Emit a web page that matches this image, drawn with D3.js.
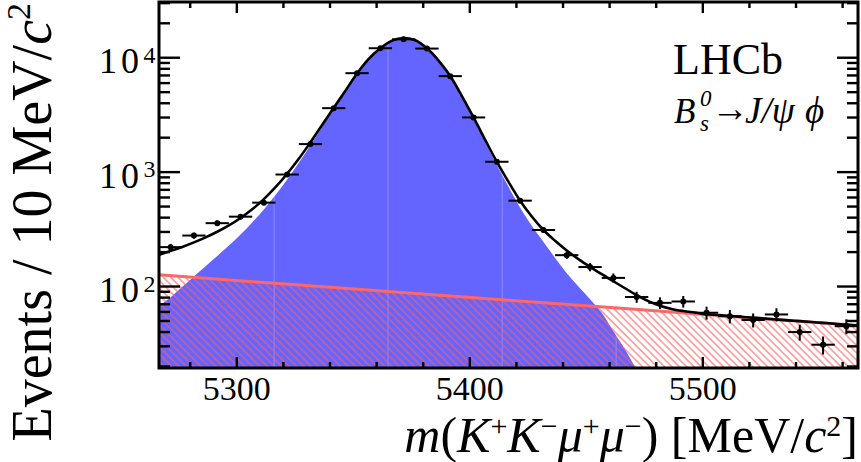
<!DOCTYPE html>
<html>
<head>
<meta charset="utf-8">
<script src="https://cdn.jsdelivr.net/npm/d3@7"></script>
<style>
  html, body { margin: 0; padding: 0; background: #fff; }
  svg { display: block; }
  svg text { font-family: "Liberation Serif", "Times New Roman", serif; }
</style>
</head>
<body>
<svg id="chart" width="861" height="462"></svg>
<script>
// ---- data: B_s0 -> J/psi phi invariant-mass fit ----
const binCentres = [5271.6, 5281.6, 5291.6, 5301.6, 5311.6, 5321.6, 5331.6, 5341.6, 5351.6, 5361.6,
                    5371.6, 5381.6, 5391.6, 5401.6, 5411.6, 5421.6, 5431.6, 5441.6, 5451.6, 5461.6,
                    5471.6, 5481.6, 5491.6, 5501.6, 5511.6, 5521.6, 5531.6, 5541.6, 5551.6, 5561.6];
const eventCounts = [221, 279, 358, 408, 541, 953, 1758, 3624, 7327, 12106,
                     14490, 12025, 6904, 3006, 1232, 563, 312, 188, 148, 119,
                     81, 72, 74, 59, 55, 51, 57, 40, 31, 45];
const binWidth = 10;

// fit model sampled along the mass axis
const fitMass = [5266.6, 5271.6, 5276.6, 5281.6, 5286.6, 5291.6, 5296.6, 5301.6, 5306.6, 5311.6,
                 5316.6, 5321.6, 5326.6, 5331.6, 5336.6, 5341.6, 5346.6, 5351.6, 5356.6, 5361.6,
                 5366.6, 5371.6, 5376.6, 5381.6, 5386.6, 5391.6, 5396.6, 5401.6, 5406.6, 5411.6,
                 5416.6, 5421.6, 5426.6, 5431.6, 5436.6, 5441.6, 5446.6, 5451.6, 5456.6, 5461.6,
                 5466.6, 5471.6, 5476.6, 5481.6, 5486.6, 5491.6, 5496.6, 5501.6, 5506.6, 5511.6,
                 5516.6, 5521.6, 5526.6, 5531.6, 5536.6, 5541.6, 5546.6, 5551.6, 5556.6, 5561.6, 5566.6];
const totalFit = [189, 205, 222, 243, 269, 301, 342, 397, 473, 581,
                  738, 968, 1309, 1820, 2582, 3648, 5152, 7278, 9772, 12106,
                  14125, 14894, 14223, 12078, 9441, 6918, 4624, 3006, 1914, 1230,
                  822, 562, 409, 312, 251, 206.5, 173.8, 148.6, 128.2, 111.2,
                  96.6, 84.1, 74.5, 67.9, 63.7, 61.1, 59.2, 57.3, 56.3, 55.3,
                  54.3, 53.5, 52.4, 51.5, 50.6, 49.8, 48.9, 48.1, 47.2, 46.5, 45.6];
const signalFit = [67.6, 80.4, 99.3, 122.6, 150.6, 185, 228, 285, 363, 472,
                   631, 863, 1206, 1719, 2482, 3550, 5058, 7178, 9683, 12023,
                   14028, 14791, 14125, 11995, 9354, 6839, 4539, 2924, 1837, 1153,
                   746, 488, 339, 245.5, 177.8, 130.6, 100, 77.6, 58.9, 40.7,
                   28.2, 18.6, 11.7];
const backgroundMass = [5266.6, 5316.6, 5366.6, 5416.6, 5466.6, 5516.6, 5566.6];
const backgroundFit = [126.5, 106.7, 90.0, 75.9, 64.1, 54.0, 45.6];

// axes
const massDomain = [5266.6, 5566.6];
const countDomain = [19.4, 30700];
const massTicks = [5300, 5400, 5500];
const massTickLabels = ["5300", "5400", "5500"];
const countTicks = [100, 1000, 10000];
const countTickExponents = ["2", "3", "4"];
// polygon joins of the signal fill
const fillSeams = [5316.0, 5364.9, 5413.9, 5462.8];

// ---- layout ----
const plot = { left: 159, right: 858, top: 2, bottom: 368 };
const svg = d3.select("#chart");
const x = d3.scaleLinear().domain(massDomain).range([plot.left, plot.right]);
const y = d3.scaleLog().domain(countDomain).range([plot.bottom, plot.top]);

const defs = svg.append("defs");
defs.append("clipPath").attr("id", "plotClip")
  .append("rect")
  .attr("x", plot.left).attr("y", plot.top)
  .attr("width", plot.right - plot.left).attr("height", plot.bottom - plot.top);

const hatch = defs.append("pattern")
  .attr("id", "bkgHatch")
  .attr("patternUnits", "userSpaceOnUse")
  .attr("width", 5.2).attr("height", 5.2)
  .attr("patternTransform", "rotate(-45)");
hatch.append("line")
  .attr("x1", 2.6).attr("y1", -1).attr("x2", 2.6).attr("y2", 7)
  .attr("stroke", "#ff5c5c").attr("stroke-width", 1);

const layer = svg.append("g").attr("clip-path", "url(#plotClip)");

const signalPts = signalFit.map((v, i) => [fitMass[i], v]);
const totalPts = totalFit.map((v, i) => [fitMass[i], v]);
const bkgPts = backgroundFit.map((v, i) => [backgroundMass[i], v]);

// signal component, filled
const signalArea = d3.area()
  .x(d => x(d[0])).y0(plot.bottom).y1(d => y(d[1]))
  .curve(d3.curveMonotoneX);
layer.append("path").datum(signalPts)
  .attr("d", signalArea).attr("fill", "#6464ff");

// faint seams where the fill polygons meet
defs.append("clipPath").attr("id", "signalClip")
  .append("path").datum(signalPts).attr("d", signalArea);
layer.append("g").attr("clip-path", "url(#signalClip)")
  .selectAll("line").data(fillSeams).join("line")
  .attr("x1", d => x(d)).attr("x2", d => x(d))
  .attr("y1", plot.top).attr("y2", plot.bottom)
  .attr("stroke", "#ffffff").attr("stroke-opacity", 0.25).attr("stroke-width", 1);

// background component, hatched
const bkgArea = d3.area()
  .x(d => x(d[0])).y0(plot.bottom).y1(d => y(d[1]));
layer.append("path").datum(bkgPts)
  .attr("d", bkgArea).attr("fill", "url(#bkgHatch)");
layer.append("path").datum(bkgPts)
  .attr("d", d3.line().x(d => x(d[0])).y(d => y(d[1])))
  .attr("fill", "none").attr("stroke", "#ff6666").attr("stroke-width", 3);

// total fit
layer.append("path").datum(totalPts)
  .attr("d", d3.line().x(d => x(d[0])).y(d => y(d[1])).curve(d3.curveMonotoneX))
  .attr("fill", "none").attr("stroke", "#000").attr("stroke-width", 2.6);

// data points with Poisson errors
const pts = layer.append("g");
binCentres.forEach((c, i) => {
  const n = eventCounts[i], e = Math.sqrt(n);
  pts.append("line")
    .attr("x1", x(c - binWidth / 2)).attr("x2", x(c + binWidth / 2))
    .attr("y1", y(n)).attr("y2", y(n))
    .attr("stroke", "#000").attr("stroke-width", 2);
  pts.append("line")
    .attr("x1", x(c)).attr("x2", x(c))
    .attr("y1", y(Math.max(n - e, countDomain[0] * 0.5))).attr("y2", y(n + e))
    .attr("stroke", "#000").attr("stroke-width", 2);
  pts.append("circle")
    .attr("cx", x(c)).attr("cy", y(n)).attr("r", 3).attr("fill", "#000");
});

// ---- frame and ticks ----
const axes = svg.append("g").attr("stroke", "#000").attr("stroke-width", 2.4);
const minorMass = d3.range(5280, massDomain[1], 20);
minorMass.forEach(m => {
  const major = massTicks.includes(m);
  const len = major ? 11 : 6;
  axes.append("line").attr("x1", x(m)).attr("x2", x(m))
    .attr("y1", plot.bottom).attr("y2", plot.bottom - len);
  axes.append("line").attr("x1", x(m)).attr("x2", x(m))
    .attr("y1", plot.top).attr("y2", plot.top + len);
});
y.ticks().forEach(v => {
  const major = countTicks.includes(v);
  const len = major ? 21 : 11;
  const yy = y(v);
  if (yy < plot.top + 1 || yy > plot.bottom - 1) return;
  axes.append("line").attr("x1", plot.left).attr("x2", plot.left + len)
    .attr("y1", yy).attr("y2", yy);
  axes.append("line").attr("x1", plot.right).attr("x2", plot.right - len)
    .attr("y1", yy).attr("y2", yy);
});
svg.append("rect")
  .attr("x", plot.left).attr("y", plot.top)
  .attr("width", plot.right - plot.left).attr("height", plot.bottom - plot.top)
  .attr("fill", "none").attr("stroke", "#000").attr("stroke-width", 3);

// ---- tick labels ----
const labels = svg.append("g").attr("fill", "#000");
massTicks.forEach((m, i) => {
  labels.append("text")
    .attr("x", x(m)).attr("y", 400)
    .attr("text-anchor", "middle").style("font-size", "34px")
    .text(massTickLabels[i]);
});
countTicks.forEach((v, i) => {
  const yy = y(v);
  labels.append("text")
    .attr("x", 143).attr("y", yy + 15.5)
    .attr("text-anchor", "end").style("font-size", "36px")
    .style("letter-spacing", "4px")
    .text("10");
  labels.append("text")
    .attr("x", 143.5).attr("y", yy + 5)
    .style("font-size", "24px")
    .text(countTickExponents[i]);
});

// ---- axis titles ----
function addPart(t, txt, opts = {}) {
  const s = t.append("tspan").text(txt);
  if (opts.italic) s.style("font-style", "italic");
  if (opts.size) s.style("font-size", opts.size);
  if (opts.dy) s.attr("dy", opts.dy);
  return s;
}
const xTitle = labels.append("text")
  .attr("x", 858).attr("y", 452)
  .attr("text-anchor", "end").style("font-size", "50px");
const sup = "30px", up = -16;
addPart(xTitle, "m", { italic: true });
addPart(xTitle, "(");
addPart(xTitle, "K", { italic: true });
addPart(xTitle, "+", { size: sup, dy: up });
addPart(xTitle, "K", { italic: true, dy: -up });
addPart(xTitle, "\u2212", { size: sup, dy: up });
addPart(xTitle, "\u03bc", { italic: true, dy: -up });
addPart(xTitle, "+", { size: sup, dy: up });
addPart(xTitle, "\u03bc", { italic: true, dy: -up });
addPart(xTitle, "\u2212", { size: sup, dy: up });
addPart(xTitle, ") [MeV/", { dy: -up });
addPart(xTitle, "c", { italic: true });
addPart(xTitle, "2", { size: sup, dy: up });
addPart(xTitle, "]", { dy: -up });

const yTitle = labels.append("text")
  .attr("transform", "translate(51,3) rotate(-90)")
  .attr("text-anchor", "end").style("font-size", "56px");
addPart(yTitle, "Events / 10 MeV/");
addPart(yTitle, "c", { italic: true });
addPart(yTitle, "2", { size: "34px", dy: -21 });

// ---- experiment and decay labels ----
labels.append("text").attr("x", 673).attr("y", 73.5)
  .style("font-size", "44px").text("LHCb");
labels.append("text").attr("x", 674).attr("y", 123)
  .style("font-size", "35px").style("font-style", "italic").text("B");
labels.append("text").attr("x", 700).attr("y", 106)
  .style("font-size", "23px").style("font-style", "italic").text("0");
labels.append("text").attr("x", 700).attr("y", 131)
  .style("font-size", "23px").style("font-style", "italic").text("s");
labels.append("text").attr("x", 711).attr("y", 121)
  .style("font-size", "38px").text("\u2192");
labels.append("text").attr("x", 745).attr("y", 123)
  .style("font-size", "37px").style("font-style", "italic").text("J/\u03c8");
labels.append("text").attr("x", 805).attr("y", 123)
  .style("font-size", "37px").style("font-style", "italic").text("\u03d5");
</script>
</body>
</html>
